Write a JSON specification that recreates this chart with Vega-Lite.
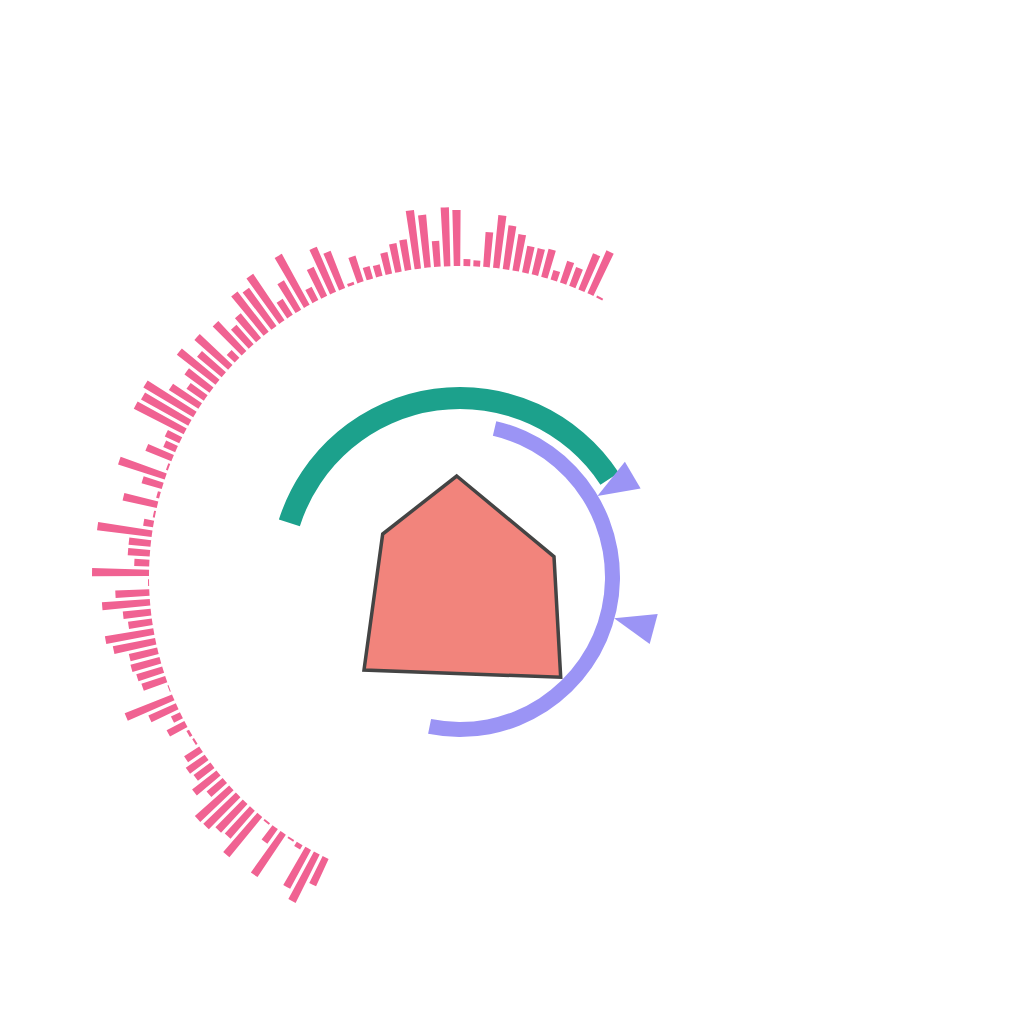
{
  "$schema": "https://vega.github.io/schema/vega-lite/v6.json",
  "width": 920,
  "height": 894,
  "autosize": "none",
  "padding": {"left": 0, "top": 130, "right": 104, "bottom": 0},
  "background": "white",
  "view": {"stroke": null},
  "datasets": {
    "bars": [
      {"i":0,"v":30},{"i":1,"v":54},{"i":2,"v":44},{"i":3,"v":5},{"i":4,"v":2},{"i":5,"v":51},{"i":6,"v":18},{"i":7,"v":2},{"i":8,"v":52},{"i":9,"v":37},
      {"i":10,"v":39},{"i":11,"v":45},{"i":12,"v":46},{"i":13,"v":21},{"i":14,"v":31},{"i":15,"v":21},{"i":16,"v":23},{"i":17,"v":18},{"i":18,"v":2},{"i":19,"v":3},
      {"i":20,"v":20},{"i":21,"v":10},{"i":22,"v":30},{"i":23,"v":51},{"i":24,"v":1},{"i":25,"v":25},{"i":26,"v":27},{"i":27,"v":30},{"i":28,"v":29},{"i":29,"v":43},
      {"i":30,"v":49},{"i":31,"v":24},{"i":32,"v":28},{"i":33,"v":48},{"i":34,"v":34},{"i":35,"v":1},{"i":36,"v":57},{"i":37,"v":15},{"i":38,"v":22},{"i":39,"v":22},
      {"i":40,"v":55},{"i":41,"v":10},{"i":42,"v":2},{"i":43,"v":35},{"i":44,"v":3},{"i":45,"v":21},{"i":46,"v":49},{"i":47,"v":2},{"i":48,"v":28},{"i":49,"v":13},
      {"i":50,"v":16},{"i":51,"v":56},{"i":52,"v":54},{"i":53,"v":58},{"i":54,"v":35},{"i":55,"v":21},{"i":56,"v":31},{"i":57,"v":49},{"i":58,"v":32},{"i":59,"v":45},
      {"i":60,"v":11},{"i":61,"v":41},{"i":62,"v":26},{"i":63,"v":32},{"i":64,"v":51},{"i":65,"v":47},{"i":66,"v":56},{"i":67,"v":19},{"i":68,"v":34},{"i":69,"v":58},
      {"i":70,"v":15},{"i":71,"v":32},{"i":72,"v":49},{"i":73,"v":40},{"i":74,"v":3},{"i":75,"v":27},{"i":76,"v":13},{"i":77,"v":12},{"i":78,"v":22},{"i":79,"v":29},
      {"i":80,"v":31},{"i":81,"v":59},{"i":82,"v":53},{"i":83,"v":26},{"i":84,"v":59},{"i":85,"v":56},{"i":86,"v":7},{"i":87,"v":6},{"i":88,"v":35},{"i":89,"v":53},
      {"i":90,"v":44},{"i":91,"v":37},{"i":92,"v":27},{"i":93,"v":27},{"i":94,"v":29},{"i":95,"v":10},{"i":96,"v":23},{"i":97,"v":20},{"i":98,"v":39},{"i":99,"v":47},
      {"i":100,"v":2}
    ],
    "green": [{"start": -72.4, "end": 56.7}],
    "purple": [{"start": 13.1, "end": 191.5}],
    "poly": [
      {"k": 0, "x": -3.3, "y": 101},
      {"k": 1, "x": 94, "y": 20.3},
      {"k": 2, "x": 100.7, "y": -100.3},
      {"k": 3, "x": -96, "y": -93},
      {"k": 4, "x": -77.3, "y": 43}
    ],
    "markers": [
      {"theta": 59.5, "x": 155.1, "y": 91.4},
      {"theta": 105, "x": 173.9, "y": -46.6}
    ]
  },
  "resolve": {"scale": {"theta": "independent", "radius": "independent"}},
  "layer": [
    {
      "data": {"name": "bars"},
      "mark": {"type": "arc", "color": "#f06292", "padAngle": 0.007},
      "encoding": {
        "theta": {"field": "i", "type": "quantitative", "bin": {"step": 1, "extent": [0, 101]},
          "scale": {"domain": [0, 101], "range": [3.5726, 6.76319]}},
        "radius": {"field": "v", "type": "quantitative",
          "scale": {"type": "linear", "domain": [-311, 89], "range": [0, 400]}},
        "radius2": {"datum": 0}
      }
    },
    {
      "data": {"name": "green"},
      "mark": {"type": "arc", "color": "#1ca18c", "radius": 190, "radius2": 168},
      "encoding": {
        "theta": {"field": "start", "type": "quantitative", "scale": {"domain": [0, 360], "range": [0, 6.283185]}},
        "theta2": {"field": "end"}
      }
    },
    {
      "data": {"name": "purple"},
      "mark": {"type": "arc", "color": "#9b94f5", "radius": 160, "radius2": 145},
      "encoding": {
        "theta": {"field": "start", "type": "quantitative", "scale": {"domain": [0, 360], "range": [0, 6.283185]}},
        "theta2": {"field": "end"}
      }
    },
    {
      "data": {"name": "poly"},
      "mark": {"type": "line", "interpolate": "linear-closed", "fill": "#f2847c", "stroke": "#444444", "strokeWidth": 3.5, "strokeJoin": "miter"},
      "encoding": {
        "x": {"field": "x", "type": "quantitative", "scale": {"domain": [-460, 460], "nice": false, "zero": false}, "axis": null},
        "y": {"field": "y", "type": "quantitative", "scale": {"domain": [-447, 447], "nice": false, "zero": false}, "axis": null},
        "order": {"field": "k", "type": "quantitative"}
      }
    },
    {
      "data": {"name": "markers"},
      "mark": {"type": "point", "shape": "M0,1L-0.756,-1L0.756,-1Z", "filled": true, "color": "#9b94f5", "opacity": 1, "size": 1681, "strokeWidth": 0},
      "encoding": {
        "x": {"field": "x", "type": "quantitative", "scale": {"domain": [-460, 460], "nice": false, "zero": false}, "axis": null},
        "y": {"field": "y", "type": "quantitative", "scale": {"domain": [-447, 447], "nice": false, "zero": false}, "axis": null},
        "angle": {"field": "theta", "type": "quantitative", "scale": {"domain": [0, 360], "range": [0, 360]}}
      }
    }
  ]
}
